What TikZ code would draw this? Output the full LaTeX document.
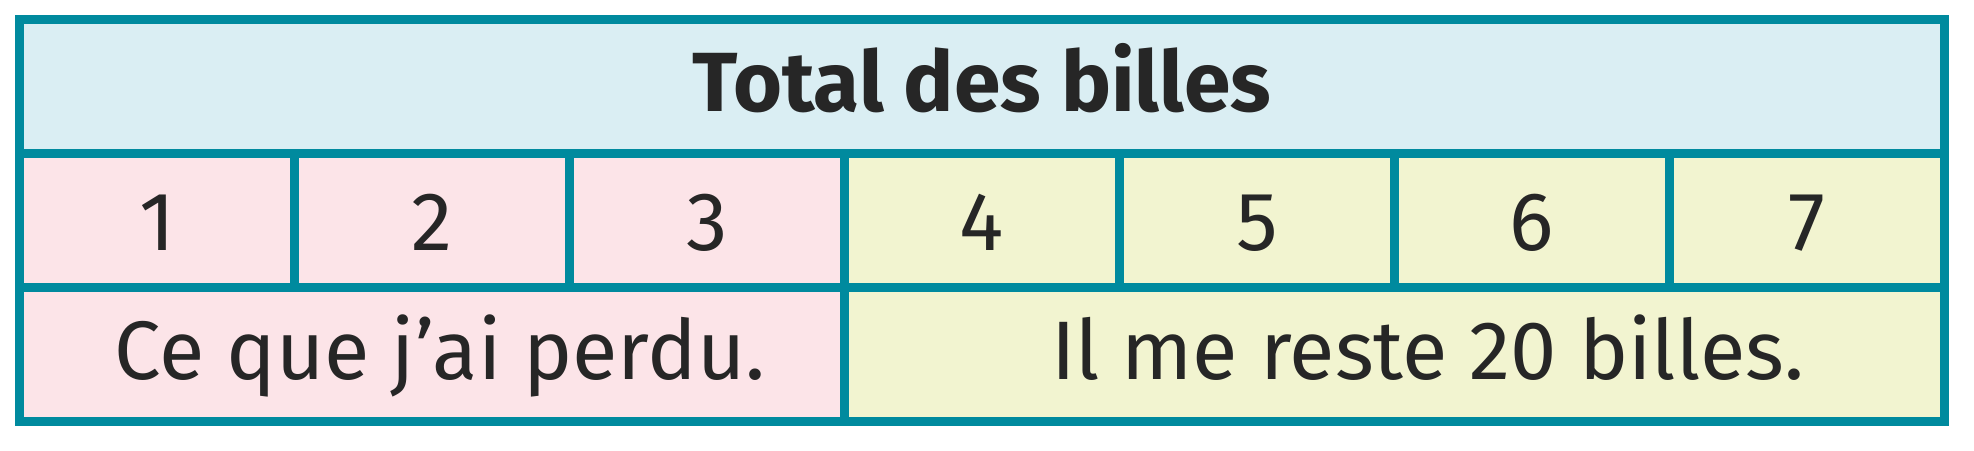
\documentclass[tikz,border=0pt]{standalone}
\usepackage{fontspec}
\setmainfont{Fira Sans}
\usetikzlibrary{positioning}
\definecolor{tealline}{RGB}{0,138,158}
\definecolor{headblue}{RGB}{218,238,243}
\definecolor{lostpink}{RGB}{252,228,232}
\definecolor{leftyellow}{RGB}{242,244,208}
\definecolor{inktext}{RGB}{38,38,38}
\tikzset{
    cell/.style={rectangle, draw=tealline, line width=9pt, inner sep=0pt, outer sep=0pt, minimum height=134pt, text=inktext, font=\fontsize{83}{100}\selectfont},
    unit/.style={cell, minimum width=275pt, text height=62pt, text depth=2pt},
    part/.style={cell, minimum width=825pt, text height=60pt, text depth=10pt}
}

\begin{document}
\begin{tikzpicture}[x=1pt, y=-1pt]
        \useasboundingbox (0,0) rectangle (1974,450);

        % Header
        \node (total) [cell, minimum width=1925pt, fill=headblue, text height=60pt, text depth=10pt, font=\fontsize{84}{100}\selectfont\bfseries] at (982,86.5) {Total des billes};

        % Units
        \node (u1) [unit, fill=lostpink, below=0pt of total.south west, anchor=north west] {1};
        \node (u2) [unit, fill=lostpink, right=0pt of u1] {2};
        \node (u3) [unit, fill=lostpink, right=0pt of u2] {3};
        \node (u4) [unit, fill=leftyellow, right=0pt of u3] {4};
        \node (u5) [unit, fill=leftyellow, right=0pt of u4] {5};
        \node (u6) [unit, fill=leftyellow, right=0pt of u5] {6};
        \node (u7) [unit, fill=leftyellow, right=0pt of u6] {7};

        % Parts
        \node (lost) [part, fill=lostpink, below=0pt of u1.south west, anchor=north west] {};
        \node (left) [part, minimum width=1100pt, fill=leftyellow, right=0pt of lost] {};
        \node (losttext) [part, draw=none, at={([xshift=8pt]lost.center)}] {Ce que j’ai perdu.};
        \node (lefttext) [part, draw=none, at={([xshift=33pt]left.center)}] {Il me reste 20 billes.};

    \end{tikzpicture}
\end{document}
